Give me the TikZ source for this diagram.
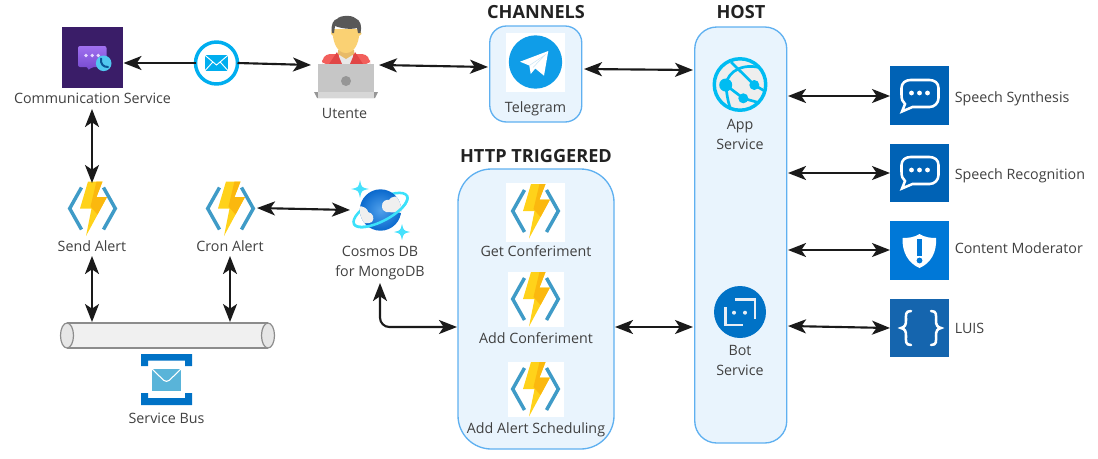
\documentclass[tikz,border=0pt]{standalone}
\usepackage{fontspec}
\setmainfont{Open Sans}
\usetikzlibrary{arrows.meta,calc}
\definecolor{txt}{HTML}{404040}
\definecolor{hd}{HTML}{222222}
\definecolor{grpfill}{HTML}{E9F4FD}
\definecolor{grpline}{HTML}{5FB0F0}
\definecolor{arrowc}{HTML}{1A1A1A}
\definecolor{fnblue}{HTML}{3F9BC7}
\definecolor{azure}{HTML}{00BCF2}
\definecolor{boltA}{HTML}{FFD21A}
\definecolor{boltB}{HTML}{FBB80E}
\definecolor{commbg}{HTML}{3A1D68}
\definecolor{commtop}{HTML}{A070F0}
\definecolor{commbot}{HTML}{7448CD}
\definecolor{commdot}{HTML}{E6D9FF}
\definecolor{phonebg}{HTML}{50C8F0}
\definecolor{phone}{HTML}{0A5596}
\definecolor{mailc}{HTML}{00AEEF}
\definecolor{shirtR}{HTML}{F25F5C}
\definecolor{shirtD}{HTML}{E14646}
\definecolor{shirtW}{HTML}{E8E8E8}
\definecolor{neck}{HTML}{E8BB68}
\definecolor{face}{HTML}{FAD173}
\definecolor{hair}{HTML}{585858}
\definecolor{laptop}{HTML}{C6C6C6}
\definecolor{laptopD}{HTML}{969696}
\definecolor{laptopL}{HTML}{D7D7D7}
\definecolor{telec}{HTML}{0F9DE8}
\definecolor{telef}{HTML}{CDE6F5}
\definecolor{appbg}{HTML}{EEEEEE}
\definecolor{botc}{HTML}{0072C6}
\definecolor{botl}{HTML}{E8EEF5}
\definecolor{cosA}{HTML}{50A0EB}
\definecolor{cosB}{HTML}{0A69CD}
\definecolor{cloud}{HTML}{EFEFEF}
\definecolor{ring}{HTML}{3CE1FA}
\definecolor{star}{HTML}{46E1FC}
\definecolor{busfill}{HTML}{F0F0F0}
\definecolor{busend}{HTML}{E6E6E6}
\definecolor{busline}{HTML}{8C8C8C}
\definecolor{envel}{HTML}{59B4D9}
\definecolor{speech}{HTML}{0062B5}
\definecolor{modc}{HTML}{0078D7}
\definecolor{luisc}{HTML}{1565AE}
\tikzset{
  lbl/.style={font=\fontsize{10.7}{15.5}\selectfont,text=txt,inner sep=0pt,align=center},
  lblleft/.style={lbl,anchor=west,text height=7.5pt,text depth=2pt},
  head/.style={font=\fontsize{13.6}{15}\selectfont\bfseries,text=hd,inner sep=0pt},
  grp/.style={draw=grpline,fill=grpfill,line width=1pt,inner sep=0pt,outer sep=0pt},
  iconbox/.style={inner sep=0pt,outer sep=0pt},
  bigtip/.style={},
  conn/.style={line width=1.6pt,draw=arrowc,{Stealth[length=13.5pt,width=10.5pt,inset=3.5pt]}-{Stealth[length=13.5pt,width=10.5pt,inset=3.5pt]}},
  connL/.style={line width=1.6pt,draw=arrowc,{Stealth[length=13.5pt,width=10.5pt,inset=3.5pt]}-},
  connR/.style={line width=1.6pt,draw=arrowc,-{Stealth[length=13.5pt,width=10.5pt,inset=3.5pt]}},
}
\newcommand{\fnicon}[2]{%
 \begin{scope}[shift={(#1,#2)}]
  \draw[fnblue,line width=2.6pt] (-11,-21) -- (-22.8,0) -- (-11,21);
  \draw[fnblue,line width=2.6pt] (11,-21) -- (22.8,0) -- (11,21);
  \fill[boltA] (-4.5,-27) -- (10,-27) -- (4,-11.5) -- (14.5,-11.5) -- (-6.5,27.5) -- (-1,0) -- (-12.5,0) -- cycle;
  \fill[boltB] (4,-27) -- (10,-27) -- (4,-11.5) -- (14.5,-11.5) -- (5,6) -- (-2,-2) -- cycle;
 \end{scope}}
\newcommand{\bubbleicon}[2]{%
 \begin{scope}[shift={(#1,#2)}]
  \draw[white,line width=1.9pt]
    (-7,12) -- (-17.5,16.5) -- (-14.5,9) .. controls (-17,7) and (-18,4) .. (-18,0) -- (-18,-7) .. controls (-18,-12) and (-14,-15) .. (-9,-15) -- (10,-15) .. controls (15,-15) and (19,-12) .. (19,-7) -- (19,3) .. controls (19,8) and (15,12) .. (10,12) -- cycle;
  \foreach \d in {-8,0,8}{\fill[white] (\d,-2) circle (2.4);}
 \end{scope}}
\begin{document}
\begin{tikzpicture}[x=0.75pt,y=-0.75pt]
\useasboundingbox (0,0) rectangle (1098,458);

% ---------- containers
\node[grp,rounded corners=12.5pt,minimum width=69pt,minimum height=72pt] (telebox) at (535.75,74) {};
\node[grp,rounded corners=16.5pt,minimum width=69pt,minimum height=312pt] (host) at (740.75,235) {};
\node[grp,rounded corners=25pt,minimum width=117pt,minimum height=210pt] (http) at (536,309) {};

\node[head] (hchan) at (536,12.5) {CHANNELS};
\node[head] (hhost) at (741,12.5) {HOST};
\node[head] (hhttp) at (536,156) {HTTP TRIGGERED};

% ---------- communication service
\node[iconbox,fill=commbg,minimum size=45.75pt] (comm) at (92.5,57.5) {};
\shade[top color=commtop,bottom color=commbot,rounded corners=1.5pt]
  (78,46) -- (106.5,46) -- (106.5,67) -- (92,67) -- (88,70.5) -- (88,67) -- (78,67) -- cycle;
\foreach \d in {86,92.3,98.3}{\fill[commdot] (\d,55.5) circle (1.9);}
\fill[phonebg] (103.7,63.3) circle (7.8);
\draw[phone,line width=1.5pt,line cap=round] (101,58.5) .. controls (100.5,64) and (103,67) .. (108,67);
\node[lbl] (commlbl) at (92.5,98.5) {Communication Service};

% ---------- mail
\node[iconbox,circle,draw=mailc,fill=white,line width=2.6pt,minimum size=31.5pt] (mail) at (216.5,63) {};
\fill[mailc] (204.7,55) rectangle (228.3,71);
\draw[white,line width=.7pt] (204.7,55) -- (216.5,65) -- (228.3,55);
\draw[white,line width=.7pt] (204.7,71) -- (213,61.8) (228.3,71) -- (220,61.8);

% ---------- user
\node[iconbox,minimum width=48pt,minimum height=62pt] (user) at (346,57) {};
\fill[shirtR,rounded corners=3pt] (322,64) -- (322,60) -- (326,54) -- (366,54) -- (370,60) -- (370,64) -- cycle;
\fill[shirtW] (339,54) -- (353,54) -- (353,64) -- (339,64) -- cycle;
\fill[shirtD] (329,64) -- (337,52) -- (342,64) -- cycle;
\fill[shirtD] (363,64) -- (355,52) -- (350,64) -- cycle;
\fill[neck] (338,50) -- (354,50) -- (354,54) -- (346,59) -- (338,54) -- cycle;
\fill[face] (346,53) .. controls (337,53) and (333.5,42) .. (333,36) -- (331,34) -- (332,29) -- (360,29) -- (361.5,34) -- (359,36) .. controls (358.5,42) and (355,53) .. (346,53) -- cycle;
\fill[hair] (332,33) .. controls (330,25) and (334,19) .. (337,19) .. controls (340,15) and (352,15) .. (355,18) .. controls (361,20) and (362,27) .. (360.5,33) -- (358,33) -- (357,28) .. controls (350,30) and (340,28) .. (335,26) -- (334,33) -- cycle;
\fill[laptopD] (314,92) -- (378,92) -- (375,98) -- (317,98) -- cycle;
\fill[laptop] (318,63.5) rectangle (374,92);
\fill[laptopL] (318,92) rectangle (374,98);
\fill[laptopD] (346,81) circle (5);
\node[lbl] (userlbl) at (344.5,113) {Utente};

% ---------- telegram
\node[iconbox,fill=white,minimum size=44.25pt] (tele) at (535.5,62) {};
\fill[telec] (535.5,62) circle (20pt);
\fill[white] (520,61.7) -- (548.3,51) -- (544,75.7) -- (535.3,68.5) -- (530.7,74) -- (529.3,65.5) -- cycle;
\draw[telef,line width=.4pt] (529.3,65.5) -- (545,55) -- (533,67.5);
\node[lbl] (telelbl) at (535.5,108.5) {Telegram};

% ---------- app service
\node[iconbox,circle,fill=appbg,draw=azure,line width=2.6pt,minimum size=38.6pt] (app) at (740,84.5) {};
\begin{scope}
 \clip (740,84.5) circle (26.5);
 \draw[azure,line width=2pt] (725.7,85) .. controls (728,70) and (745,62) .. (764,69);
 \draw[azure,line width=2pt] (731,62) -- (754.3,85) -- (768,93);
 \draw[azure,line width=2pt] (725.7,85) -- (743.3,98.3) -- (760,103);
 \draw[azure,line width=2pt] (725.7,85) .. controls (727,95) and (728,104) .. (732,112);
\end{scope}
\fill[azure] (725.7,85) circle (6.5) (754.3,85) circle (5) (743.3,98.3) circle (5);
\node[lbl] (applbl) at (740,134.5) {App\\Service};

% ---------- bot service
\node[iconbox,circle,fill=botc,minimum size=39pt] (bot) at (740,312) {};
\draw[botl,line width=1.9pt] (735,299.3) -- (755,299.3) -- (755,319.3);
\draw[botl,line width=1.9pt] (725.7,307.3) -- (725.7,325) -- (743.3,325);
\fill[botl] (734,312.7) circle (2) (745,312.7) circle (2);
\node[lbl] (botlbl) at (740,360.5) {Bot\\Service};

% ---------- http functions
\node[iconbox,fill=white,minimum width=44.25pt,minimum height=44.25pt] (getc) at (535.5,212.5) {};
\fnicon{535.5}{211}
\node[lbl] (getlbl) at (536,251) {Get Conferiment};
\node[iconbox,fill=white,minimum width=42pt,minimum height=41.25pt] (addc) at (535.5,299.5) {};
\fnicon{535.5}{299}
\node[lbl] (addlbl) at (536,338) {Add Conferiment};
\node[iconbox,fill=white,minimum width=42pt,minimum height=41.25pt] (adds) at (535.5,389.5) {};
\fnicon{535.5}{389}
\node[lbl] (addslbl) at (536,429.5) {Add Alert Scheduling};

% ---------- standalone functions
\node[iconbox,minimum width=37pt,minimum height=37pt] (send) at (92.5,208.5) {};
\fnicon{92.5}{208.5}
\node[lbl] (sendlbl) at (92,246) {Send Alert};
\node[iconbox,minimum width=37pt,minimum height=37pt] (cron) at (230.5,208.5) {};
\fnicon{230.5}{208.5}
\node[lbl] (cronlbl) at (230,246) {Cron Alert};

% ---------- cosmos
\node[iconbox,circle,minimum size=31.5pt] (cosmos) at (380.5,210) {};
\draw[ring,line width=1.9pt,rotate around={28:(380.5,210)}] (380.5,210) ellipse (30 and 11);
\shade[inner color=cosA,outer color=cosB] (380.5,210) circle (20.7);
\begin{scope}
 \clip (380.5,210) circle (20.7);
 \fill[cloud] (382,207) .. controls (381,201) and (387,199) .. (389,200) .. controls (391,196) and (397,196) .. (402,197) -- (405,213) -- (386,212) .. controls (383,211) and (382,209) .. (382,207) -- cycle;
 \fill[cloud] (358,206) .. controls (364,206) and (368,209) .. (368,212) .. controls (373,213) and (375,218) .. (372,222) .. controls (368,224) and (364,223) .. (360,223) -- cycle;
\end{scope}
\begin{scope}
 \clip[rotate around={28:(380.5,210)}] (340,210) rectangle (420,250);
 \draw[ring,line width=1.9pt,rotate around={28:(380.5,210)}] (380.5,210) ellipse (30 and 11);
\end{scope}
\foreach \sx/\sy/\sr in {360/189/9,402/232/8}{
 \fill[star] (\sx,\sy-\sr) .. controls (\sx+1.5,\sy-1.5) .. (\sx+\sr,\sy) .. controls (\sx+1.5,\sy+1.5) .. (\sx,\sy+\sr) .. controls (\sx-1.5,\sy+1.5) .. (\sx-\sr,\sy) .. controls (\sx-1.5,\sy-1.5) .. (\sx,\sy-\sr) -- cycle;
}
\node[lbl] (cosmoslbl) at (380,263) {Cosmos DB\\for MongoDB};

% ---------- bus
\node[iconbox,minimum width=160.5pt,minimum height=19pt] (bus) at (167,335.5) {};
\fill[busfill] (67,323) rectangle (268,348);
\draw[busline,line width=.9pt] (67,323) -- (268,323) (67,348) -- (268,348);
\draw[busline,fill=busend,line width=.9pt] (67,335.5) ellipse (6.5 and 12.5);
\draw[busline,fill=busend,line width=.9pt] (268,335.5) ellipse (6.5 and 12.5);

% ---------- service bus icon
\node[iconbox,minimum size=38.25pt] (sbus) at (166.5,379.5) {};
\fill[botc] (141,354) -- (192,354) -- (192,366) -- (185,366) -- (185,360.7) -- (148,360.7) -- (148,366) -- (141,366) -- cycle;
\fill[botc] (141,405) -- (192,405) -- (192,393) -- (185,393) -- (185,398) -- (148,398) -- (148,393) -- (141,393) -- cycle;
\fill[envel] (152,369) rectangle (181,390.7);
\draw[white,line width=.8pt,rounded corners=3pt] (152,369) -- (166.5,383) -- (181,369);
\node[lbl] (sbuslbl) at (166.5,418) {Service Bus};

% ---------- right-hand services
\node[iconbox,fill=speech,minimum width=44.25pt,minimum height=44.25pt] (synth) at (919.5,95.5) {};
\bubbleicon{919.5}{95}
\node[lblleft] (synthlbl) at (954.5,98.5) {Speech Synthesis};
\node[iconbox,fill=speech,minimum width=44.25pt,minimum height=43.5pt] (recog) at (919.5,173) {};
\bubbleicon{919.5}{172}
\node[lblleft] (recoglbl) at (954.5,175.5) {Speech Recognition};
\node[iconbox,fill=modc,minimum width=44.25pt,minimum height=44.25pt] (modr) at (919.5,250.5) {};
\fill[white] (919.5,234) .. controls (925,237.5) and (931,238) .. (936,238) .. controls (937,252) and (931,263) .. (919.5,268) .. controls (908,263) and (902,252) .. (902.5,238) .. controls (908,238) and (914,237.5) .. (919.5,234) -- cycle;
\fill[modc] (917,239) rectangle (922,256);
\fill[modc] (919.5,260.5) circle (2.9);
\node[lblleft] (modrlbl) at (954.5,249.5) {Content Moderator};
\node[iconbox,fill=luisc,minimum width=44.25pt,minimum height=43.5pt] (luis) at (919.5,328) {};
\draw[white,line width=1.9pt,line cap=round] (911,311) .. controls (905,311) and (906,315) .. (906,320) .. controls (906,325) and (905,327) .. (901,328) .. controls (905,329) and (906,331) .. (906,336) .. controls (906,341) and (905,345) .. (911,345);
\draw[white,line width=1.9pt,line cap=round] (931,311) .. controls (937,311) and (936,315) .. (936,320) .. controls (936,325) and (937,327) .. (941,328) .. controls (937,329) and (936,331) .. (936,336) .. controls (936,341) and (937,345) .. (931,345);
\node[lblleft] (luislbl) at (954.5,329.5) {LUIS};

% ---------- connector ends
\coordinate (commE) at (123.5,63);
\coordinate (userW) at (311,65);
\coordinate (userE) at (379,65);
\coordinate (teleW) at (488,67);
\coordinate (teleE) at (584,69);
\coordinate (hostTele) at (693,70);
\coordinate (commS) at (92,109);
\coordinate (sendN) at (92,183);
\coordinate (sendS) at (92,256);
\coordinate (sendBus) at (92,322);
\coordinate (cronS) at (230,256);
\coordinate (cronBus) at (230,322);
\coordinate (cronE) at (257,208);
\coordinate (cosW) at (350,210);
\coordinate (cosS) at (380,283);
\coordinate (cosBend) at (380,327);
\coordinate (httpW) at (457,327);
\coordinate (httpE) at (615,327);
\coordinate (hostBot) at (693,327);
\coordinate (hS) at (788,96);
\coordinate (hR) at (788,173);
\coordinate (hM) at (788,250);
\coordinate (hL) at (788,326);
\coordinate (luisW) at (890,328);

% ---------- connectors
\draw[connL] (commE) -- (mail.west);
\draw[connR] (mail.east) -- (userW);
\draw[conn] (userE) -- (teleW);
\draw[conn] (teleE) -- (hostTele);
\draw[conn] (commS) -- (sendN);
\draw[conn] (sendS) -- (sendBus);
\draw[conn] (cronS) -- (cronBus);
\draw[conn] (cronE) -- (cosW);
\draw[conn,rounded corners=7pt] (cosS) -- (cosBend) -- (httpW);
\draw[conn] (httpE) -- (hostBot);
\draw[conn] (hS) -- (synth.west |- hS);
\draw[conn] (hR) -- (recog.west |- hR);
\draw[conn] (hM) -- (modr.west |- hM);
\draw[conn] (hL) -- (luisW);
\end{tikzpicture}
\end{document}
